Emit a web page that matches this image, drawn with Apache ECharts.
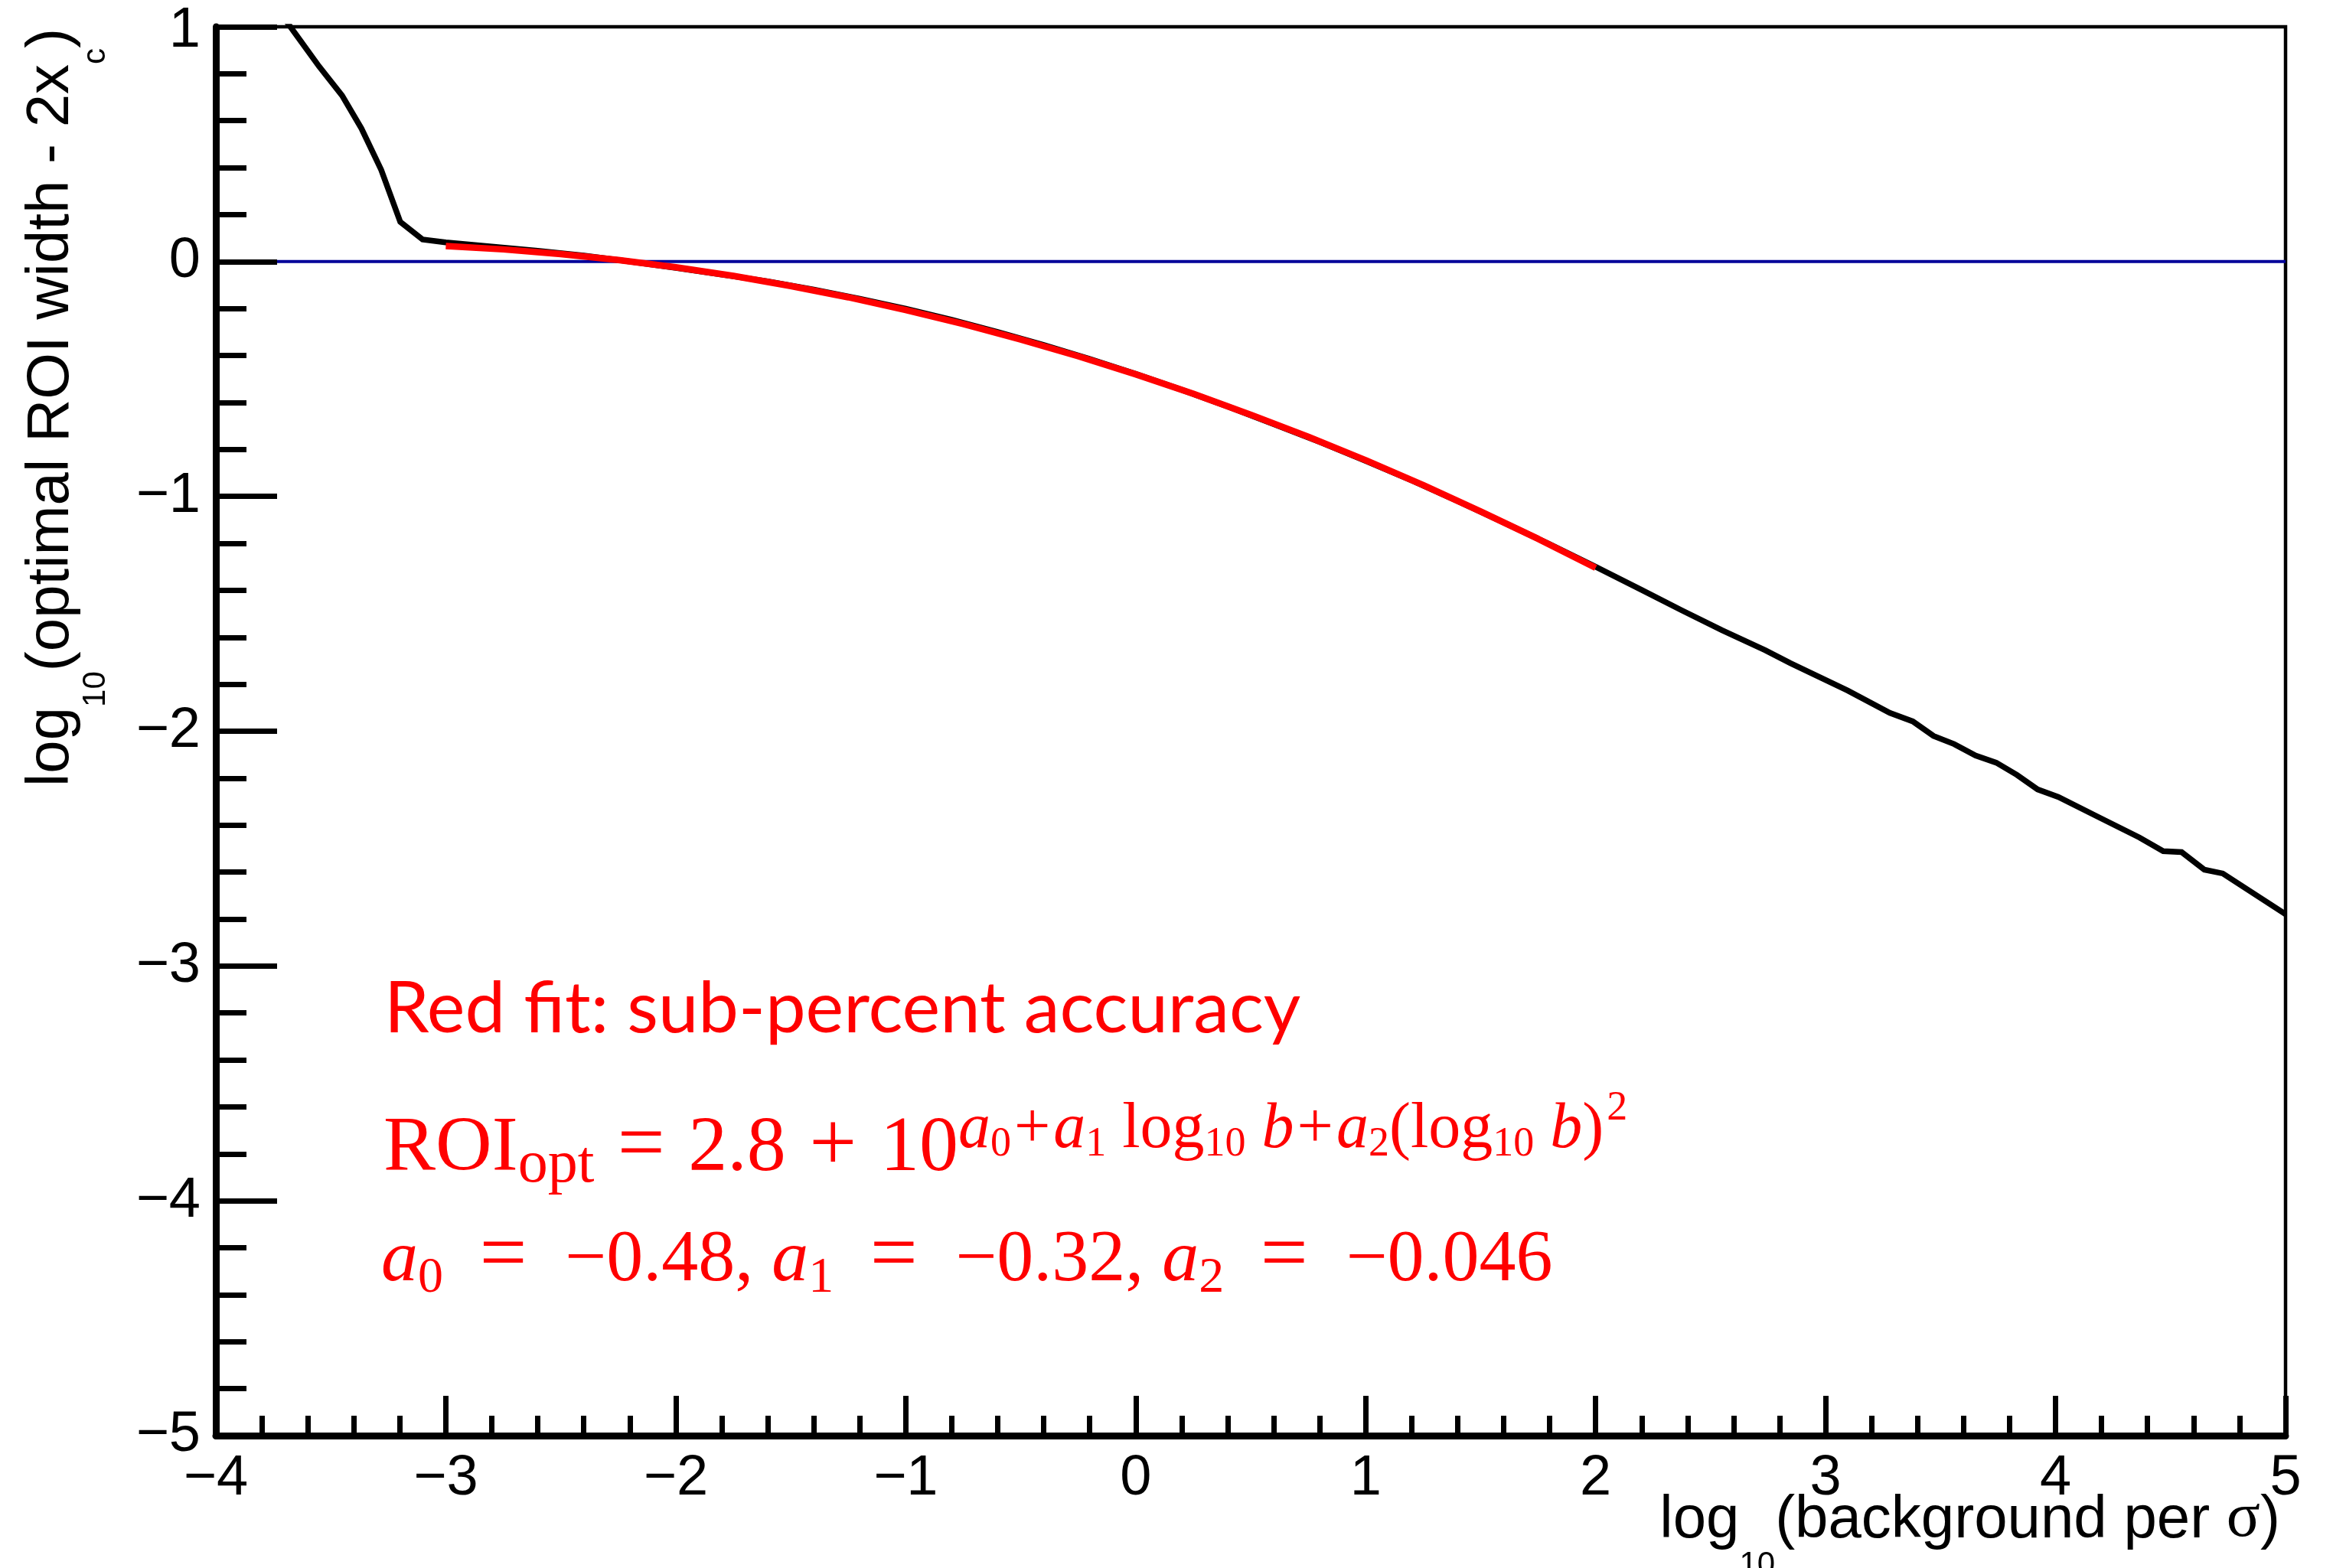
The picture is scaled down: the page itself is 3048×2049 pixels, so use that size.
<!DOCTYPE html>
<html>
<head>
<meta charset="utf-8">
<script src="https://cdn.jsdelivr.net/npm/echarts@6/dist/echarts.min.js"></script>
<style>
  html, body { margin: 0; padding: 0; background: #ffffff; }
  #chart { width: 3048px; height: 2049px; }
</style>
</head>
<body>
<div id="chart"></div>
<script>
// Scan result: log10(background per sigma) vs log10(optimal ROI width - 2x_c)
const scanX = [-3.75, -3.647, -3.551, -3.451, -3.367, -3.281, -3.198, -3.101, -3.0, -2.8,
  -2.6, -2.4, -2.2, -2.0, -1.8, -1.6, -1.4, -1.2, -1.0, -0.8,
  -0.6, -0.4, -0.2, 0.0, 0.2, 0.4, 0.6, 0.8, 1.0, 1.2,
  1.4, 1.6, 1.8, 2.0, 2.2, 2.374, 2.55, 2.737, 2.847, 3.096,
  3.279, 3.379, 3.469, 3.559, 3.652, 3.742, 3.832, 3.922, 4.012, 4.185,
  4.365, 4.468, 4.548, 4.647, 4.727, 5.0];
const scanY = [1.10, 0.961, 0.831, 0.707, 0.567, 0.391, 0.169, 0.094, 0.082, 0.064,
  0.046, 0.026, 0.000, -0.027, -0.055, -0.084, -0.119, -0.158, -0.201, -0.248,
  -0.300, -0.355, -0.415, -0.478, -0.546, -0.617, -0.692, -0.768, -0.849, -0.932,
  -1.020, -1.111, -1.204, -1.300, -1.398, -1.485, -1.570, -1.655, -1.710, -1.827,
  -1.922, -1.958, -2.020, -2.055, -2.104, -2.134, -2.186, -2.248, -2.280, -2.365,
  -2.453, -2.511, -2.515, -2.590, -2.606, -2.779];

// Quadratic fit over the range -3 .. 2
const fitX = [-3.0, -2.75, -2.5, -2.25, -2.0, -1.75, -1.5, -1.25, -1.0, -0.75, -0.5,
  -0.25, 0.0, 0.25, 0.5, 0.75, 1.0, 1.25, 1.5, 1.75, 2.0];
const fitY = [0.066, 0.052, 0.032, 0.007, -0.024, -0.061, -0.104, -0.152, -0.206, -0.266, -0.332,
  -0.403, -0.480, -0.563, -0.652, -0.746, -0.846, -0.952, -1.064, -1.181, -1.304];

// Reference level at zero
const refX = [-4, 5];
const refY = [0, 0];

// Axis ranges and tick labels
const xTicks = [-4, -3, -2, -1, 0, 1, 2, 3, 4, 5];
const yTicks = [-5, -4, -3, -2, -1, 0, 1];

const pair = (xs, ys) => xs.map((x, i) => [x, ys[i]]);
const minusFmt = v => (v < 0 ? '\u2212' + Math.abs(v) : String(v));

const SANS = '"Liberation Sans", Arial, Helvetica, sans-serif';
const SERIF = '"Liberation Serif", "Times New Roman", serif';
const RED = '#ff0000';

const chart = echarts.init(document.getElementById('chart'), null, { renderer: 'canvas' });

const axisCommon = (ticks, major, minor) => ({
  type: 'value',
  min: ticks[0],
  max: ticks[ticks.length - 1],
  interval: 1,
  z: 10,
  axisLine: { show: true, onZero: false, lineStyle: { color: '#000', width: 9 } },
  axisTick: { show: true, inside: true, length: major, lineStyle: { color: '#000', width: 7 } },
  minorTick: { show: true, splitNumber: 5, length: minor, lineStyle: { color: '#000', width: 7 } },
  splitLine: { show: false },
  minorSplitLine: { show: false },
  axisLabel: {
    color: '#000', fontSize: 74, fontFamily: SANS,
    formatter: minusFmt, showMinLabel: true, showMaxLabel: true
  }
});

const xAxis = axisCommon(xTicks, 52, 26);
xAxis.axisLabel.margin = 20;
const yAxis = axisCommon(yTicks, 80, 40);
yAxis.axisLabel.margin = 20;
// the top label sits a little below the frame edge
const yTop = yTicks[yTicks.length - 1];
yAxis.axisLabel.formatter = v => (v === yTop ? '{top|' + minusFmt(v) + '}' : minusFmt(v));
yAxis.axisLabel.rich = { top: { fontSize: 74, fontFamily: SANS, color: '#000', padding: [11, 0, 0, 0] } };

// Rich-text helpers: every run is bottom-aligned, the bottom padding sets its baseline
const run = (font, padBottom) => (
  { font: font, fill: RED, verticalAlign: 'bottom', padding: [0, 0, padBottom, 0] });
const padded = (font, left, right, padBottom) => (
  { font: font, fill: RED, verticalAlign: 'bottom', padding: [0, right, padBottom, left] });

const titleRich = {
  t: { font: '78px ' + SANS, fill: '#000', verticalAlign: 'bottom', padding: [0, 0, 42, 0] },
  s: { font: '42px ' + SANS, fill: '#000', verticalAlign: 'bottom', padding: [0, 0, 2, 0] },
  g: { font: '82px ' + SERIF, fill: '#000', verticalAlign: 'bottom', padding: [0, 0, 42, 0] }
};

chart.setOption({
  animation: false,
  backgroundColor: '#ffffff',
  grid: {
    left: 282, right: 62, top: 35, bottom: 173,
    show: true, borderColor: '#000', borderWidth: 4.5, backgroundColor: 'transparent'
  },
  xAxis: xAxis,
  yAxis: yAxis,
  series: [
    {
      type: 'line', data: pair(refX, refY), showSymbol: false, symbol: 'none',
      lineStyle: { color: '#000099', width: 4 }, z: 2
    },
    {
      type: 'line', data: pair(scanX, scanY), showSymbol: false, symbol: 'none', clip: true,
      lineStyle: { color: '#000000', width: 7.5, join: 'miter' }, z: 3
    },
    {
      type: 'line', data: pair(fitX, fitY), showSymbol: false, symbol: 'none', smooth: false,
      lineStyle: { color: RED, width: 8.5 }, z: 4
    }
  ],
  graphic: [
    // x-axis title
    {
      type: 'text', x: 2979, y: 2068, z: 20,
      style: {
        text: '{t|log}{s|10}{t|(background per }{g|\u03c3}{t|)}',
        align: 'right', verticalAlign: 'bottom', textAlign: 'right', textVerticalAlign: 'bottom',
        fill: '#000', rich: titleRich
      }
    },
    // y-axis title
    {
      type: 'text', x: 148, y: 37, rotation: Math.PI / 2, z: 20,
      style: {
        text: '{t|log}{s|10}{t|(optimal ROI width - 2x}{s|c}{t|)}',
        align: 'right', verticalAlign: 'bottom', textAlign: 'right', textVerticalAlign: 'bottom',
        fill: '#000', rich: titleRich
      }
    },
    // fit annotation, line 1
    {
      type: 'text', x: 502, y: 1319, z: 20,
      style: {
        text: 'Red fit: sub-percent accuracy',
        font: '94px Lato, "Open Sans", sans-serif', fill: RED,
        align: 'left', verticalAlign: 'middle', textAlign: 'left', textVerticalAlign: 'middle'
      }
    },
    // fit annotation, line 2: the fitted formula
    {
      type: 'text', x: 501, y: 1566, z: 20,
      style: {
        text: '{m|ROI}{ms|opt}{q| = }{m|2.8}{q| + }{m|10}' +
              '{ei|a}{es|0}{ep|+}{ei|a}{es|1}{e| log}{es|10}{ei| b}{ep|+}{ei|a}{es|2}' +
              '{e|(log}{es|10}{ei| b}{e|)}{ee|2}',
        align: 'left', verticalAlign: 'bottom', textAlign: 'left', textVerticalAlign: 'bottom',
        fill: RED,
        rich: {
          m: run('102px ' + SERIF, 13),
          ms: run('78px ' + SERIF, 3),
          q: padded('110px ' + SERIF, 3, 3, 11),
          e: run('84px ' + SERIF, 47),
          ep: padded('84px ' + SERIF, 4, 4, 47),
          ei: run('italic 84px ' + SERIF, 47),
          es: run('54px ' + SERIF, 43),
          ee: padded('54px ' + SERIF, 4, 0, 90)
        }
      }
    },
    // fit annotation, line 3: fitted parameters
    {
      type: 'text', x: 498, y: 1705, z: 20,
      style: {
        text: '{v|a}{s|0}{q| = }{n|\u22120.48, }{v|a}{s|1}{q| = }{n|\u22120.32, }{v|a}{s|2}{q| = }{n|\u22120.046}',
        align: 'left', verticalAlign: 'bottom', textAlign: 'left', textVerticalAlign: 'bottom',
        fill: RED,
        rich: {
          v: run('italic 96px ' + SERIF, 9),
          n: run('96px ' + SERIF, 9),
          s: run('66px ' + SERIF, 1),
          q: padded('110px ' + SERIF, 20, 22, 6)
        }
      }
    }
  ]
});
</script>
</body>
</html>
